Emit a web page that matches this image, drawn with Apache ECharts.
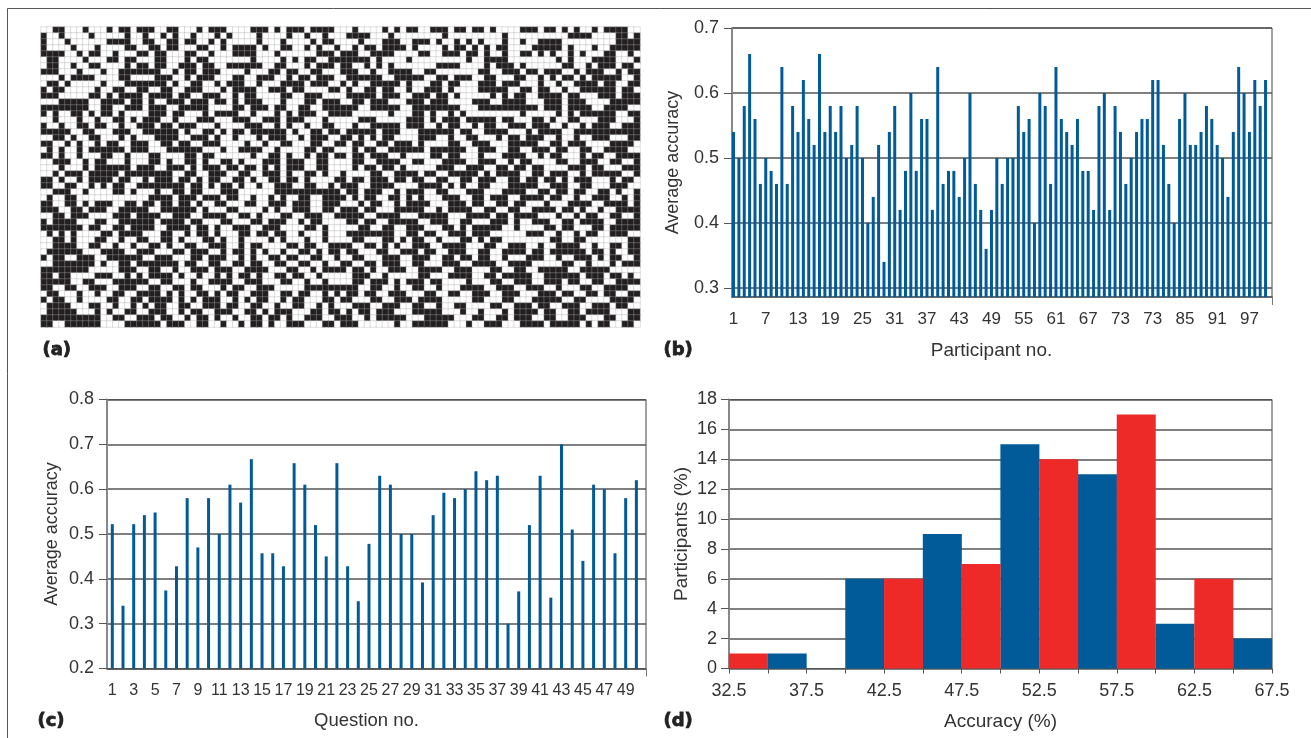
<!DOCTYPE html>
<html><head><meta charset="utf-8">
<style>html,body{margin:0;padding:0;background:#fff}#c{width:1311px;height:738px}</style>
<script src="https://cdn.jsdelivr.net/npm/echarts@6/dist/echarts.min.js"></script>
</head><body><div id="c"></div>
<script>
// (a) responses: 1 = black cell, 0 = white cell (read by eye, 50 rows x 100 columns)
const responseRows = [
"0011000100 0101101110 0110001011 1000011101 0111011110 0010000101 0110011101 1011010000 1110110101 0010111100",
"1001000010 0000100100 1010010001 0100001000 0100100100 0111100010 0000000100 0000000100 0000000011 1100001101",
"1000100000 0111100110 0110110010 1000001000 1000010110 0001000111 0011101001 0101000100 1001111000 0000001111",
"1000010001 0000110011 0110001100 1011110100 1100101001 0010110111 1010000101 1010101100 0011111010 0010011111",
"1111001011 0010001101 1000110010 0011110001 0000001110 1110011110 0001100111 0110100100 1101010010 1000110010",
"0110000100 0110110001 1000101100 0000010000 1010110011 1111101000 0100000000 0100111100 0000001010 0011110001",
"0110010011 0000101101 1001110110 0111111001 1000101110 1100101010 0000001111 0000101110 1000000110 0101110110",
"1110001000 1001111111 0010110111 0000100011 0110011000 1110010011 1100110000 0001100111 0110111001 0111001011",
"0001011110 0001100001 1100101110 0011001110 0101101110 0111111001 1111001101 1100110001 1001010110 1011111001",
"0110100000 1000111111 1010011001 0111001000 1111011100 1010011111 0100011011 0001110111 0001001001 1110110011",
"1011000001 0011001100 1100111000 1011110011 1011000011 0100110110 0100111010 0001111100 1101100100 1111110110",
"1110000011 0101111011 1101100111 0010110000 1100111000 0111110111 0011101101 0000010101 1001111011 0001110111",
"0001111100 1111011010 0111011101 1010111000 1000110111 0011011100 0111011100 0011100111 1000111011 1000011111",
"1111111100 1100111011 1001111100 0011011101 1001100111 1110011111 0011111111 0001111111 1110111011 1100111100",
"1010011010 1101000011 1011000101 1110010001 0101110011 1100000010 0011010010 1000000000 1000001010 1111110011",
"0010001001 0011010111 0010001110 0011100111 0111000100 0001110000 0111010111 0111110110 0011010011 0001110001",
"1001001101 1001001110 1101110001 0000111001 0100100110 0010011111 0111001011 0010110011 1011100100 1011100111",
"1111100110 0011100111 1110100110 1011011111 1010011011 0111110111 0001111110 1100111100 0101111001 1111111111",
"0011010011 0001010001 1110011101 0010001011 1001011100 1101010110 0001110010 0110001011 0111001001 0011100011",
"1100101001 0110011100 1101100111 0000100100 1100011001 1011001101 1101000011 0011100011 1110011011 1000011110",
"0101001011 1111011100 0111111000 1001111001 0000110110 0010110011 1111011111 1001110011 0011101100 1100111100",
"1101001000 1100100011 0000110110 0000010011 0100101101 1011011100 1000011011 0001000111 1001011000 1011001111",
"0011100101 1000100011 0100110100 1101000111 0111001100 0011001111 0011000111 1001110010 1100001100 1110011001",
"0001000101 1111101110 0111010111 0110110101 0111001100 0010110110 1000001110 0111001101 1011000011 1011000111",
"0010111011 1110111111 1100110011 1001100111 0100110100 1000011001 1110110011 1110101111 0011011100 1011111001",
"1101001011 1101100101 1101101011 0011010011 0110100001 1011011101 1011001100 1101110011 0110110101 1100010110",
"1100110010 1011001111 1111011010 1101001001 1100110010 1110011110 0001111010 1001100011 1110011100 1100011100",
"0011100100 0011010001 0011011000 1110000001 1111111111 0110111001 0111001100 0111000111 1001101101 1001101001",
"0100110000 0000000011 1101110111 0110010010 1001100111 1010110011 0101000111 0011011100 1111011001 0011100101",
"1100110101 1100110110 1101101001 1000110011 1011100111 0001011001 0111100011 1011001101 1000100011 1100111101",
"1110011011 1001111100 1111110100 0110000101 0011100110 1110110001 1111001011 1100110011 0011110110 1001001111",
"0011011100 0011101111 0011100111 1001101000 1100111001 1111001111 0001111100 0111101101 1110001001 0110011001",
"1011110001 1001111110 1111011000 1100011011 1001011000 0110110011 1110011100 1100011101 0011100110 1111001111",
"1111111011 0011011110 0111101101 0011100111 0000110100 0001100110 0111000110 1011111001 0000110110 0011011111",
"0101010000 1101111000 1100101101 0001101101 1001000100 0111111110 0110110011 1011100000 0111001001 0110011100",
"0011010001 1001001100 1101000110 1001000010 1000100100 0011000110 1011001000 1101011000 0000011001 1000000011",
"0011110011 0010010011 0100110011 1001011000 0110110011 1100110101 0011100111 1000110011 1001001111 0010011011",
"0111111000 1111001110 0011011100 1011010100 1001101011 0110001100 1110110011 1001100111 1011011111 1011010011",
"1011001110 0111111001 1100011011 1001010011 0110011001 0011000111 0011100110 1101100100 0111001001 1101011001",
"0011111110 1001101111 1110110011 0011011001 1001100100 1100110111 0011000111 0011110011 1100000110 0100010111",
"1111111100 0001110011 0010011101 1100111100 0110010111 1011010011 1001111001 1100011001 1001111100 1111100000",
"1101100001 1100101011 1101001001 0101101001 1011001000 0011100100 0001100011 1100110111 1100111111 0111011010",
"1111100110 0011111100 1100010011 1100111000 1100100100 0011011101 0111011000 0100011001 1100111011 0011001111",
"1100110011 1001110011 0011011000 1011001110 0000111111 1110011001 0011001000 1111001110 0111001000 1100111100",
"0110001001 0011001111 0101001101 0110011100 1101100101 0110110011 1000110011 0011100111 0001110110 0110110011",
"1011001000 0110011011 1101010111 0010101100 1011000110 1100011001 1101111000 0011000110 0011111001 1000011110",
"0111100011 0010010101 1001100111 0110011001 0011001010 0011100111 0011001001 1000011001 1101100111 0011101100",
"0111110001 0100110011 1001011001 1100110101 1100011011 0101101110 0011111000 1001000101 1110110011 0111100011",
"1111111111 0011001110 1100101101 0010011011 0100111001 1100101111 1000111110 0011001101 1100110011 1000110011",
"1100111111 0000111111 0111001100 1001011010 0111000110 1110000001 0011111100 0100111000 1111011111 0101100110"
];
// (b) average accuracy per participant
const participantAccuracy = [.54,.50,.58,.66,.56,.46,.50,.48,.46,.64,.46,.58,.54,.62,.56,.52,.66,.54,.58,.54,.58,.50,.52,.58,.50,.40,.44,.52,.34,.54,.58,.42,.48,.60,.48,.56,.56,.42,.64,.46,.48,.48,.44,.50,.60,.46,.42,.36,.42,.50,.46,.50,.50,.58,.54,.56,.40,.60,.58,.46,.64,.56,.54,.52,.56,.48,.48,.42,.58,.60,.42,.58,.54,.46,.50,.54,.56,.56,.62,.62,.52,.46,.40,.56,.60,.52,.52,.54,.58,.56,.52,.50,.44,.54,.64,.60,.54,.62,.58,.62];
const participantTickAt = [1,7,13,19,25,31,37,43,49,55,61,67,73,79,85,91,97];
const participantTickText = ["1","7","13","19","25","31","37","43","49","55","61","67","73","73","85","91","97"];
// (c) average accuracy per question
const questionAccuracy = [.522,.34,.522,.542,.548,.374,.428,.58,.47,.58,.50,.61,.57,.667,.457,.457,.428,.658,.61,.52,.45,.658,.428,.35,.478,.63,.61,.50,.50,.392,.542,.592,.58,.60,.64,.62,.63,.30,.372,.52,.63,.358,.70,.51,.44,.61,.60,.457,.58,.62];
const questionTickAt = [1,3,5,7,9,11,13,15,17,19,21,23,25,27,29,31,33,35,37,39,41,43,45,47,49];
// (d) histogram of participants; bins are 2.5 wide, starting at the lower edge
const binStarts = [32.5,35,37.5,40,42.5,45,47.5,50,52.5,55,57.5,60,62.5,65];
const blueShare = [null,1,0,6,null,9,null,15,null,13,null,3,null,2];
const redShare  = [1,null,null,null,6,null,7,null,14,null,17,null,6,null];
const binTicks = [32.5,35,37.5,40,42.5,45,47.5,50,52.5,55,57.5,60,62.5,65,67.5];
const binTickLabels = [32.5,37.5,42.5,47.5,52.5,57.5,62.5,67.5];

const BLUE='#005b98', RED='#ee2a29', TXT='#333', FONT='"Liberation Sans",sans-serif';
const rows = responseRows.map(r=>r.replace(/\s/g,''));
const heat=[];
rows.forEach((r,y)=>{for(let x=0;x<r.length;x++)heat.push([x,y,+r[x]]);});
const idx=n=>Array.from({length:n},(_,i)=>i);
const grid=(l,t,w,h,border)=>({left:l,top:t,width:w,height:h,show:border,borderColor:'#444',borderWidth:1,containLabel:false});
const split={show:true,lineStyle:{color:'#555',width:1.5}};
const nameStyle=(size,pad)=>({color:TXT,fontSize:size,fontFamily:FONT,padding:pad||0});
const yAxis=(g,min,max,name,gap,size,pad,extra)=>Object.assign({type:'value',gridIndex:g,min,max,name,nameLocation:'middle',nameGap:gap,
  nameTextStyle:nameStyle(size,pad),
  axisLine:{show:true,lineStyle:{color:'#888',width:2}},axisTick:{show:true,length:8,lineStyle:{color:'#555'}},
  axisLabel:{color:TXT,fontSize:18,fontFamily:FONT,margin:13},splitLine:split},extra);
const catLike=(g,min,max,at,text,name,gap,size,pad,labelSize)=>({type:'value',gridIndex:g,min,max,name,nameLocation:'middle',nameGap:gap,
  nameTextStyle:nameStyle(size,pad),splitLine:{show:false},
  axisLine:{show:true,lineStyle:{color:'#555',width:1.5}},
  axisTick:{show:true,customValues:[max],length:8,lineStyle:{color:'#777'}},
  axisLabel:{customValues:at,color:TXT,fontSize:labelSize,fontFamily:FONT,margin:14,hideOverlap:false,showMinLabel:true,showMaxLabel:true,
    formatter:v=>text?text[at.indexOf(v)]:String(v)}});
const panel=(t,x,y)=>({type:'text',left:x,top:y,style:{text:t,fill:'#222',stroke:'#222',lineWidth:0.8,font:'bold 18px "DejaVu Sans",sans-serif'}});

const option={animation:false,backgroundColor:'#fff',
 grid:[grid(41,27,599,300,false),grid(732,28,540,269,true),grid(107,399.5,539,269,true),grid(729,399.5,543,269,true)],
 xAxis:[
  {type:'category',gridIndex:0,data:idx(100),show:false},
  catLike(1,0.72,101.2,participantTickAt,participantTickText,'Participant no.',44,19,[0,21,0,0],17),
  catLike(2,0.504,50.9,questionTickAt,null,'Question no.',43,18.5,[0,20,0,0],16),
  {type:'value',gridIndex:3,min:32.5,max:67.5,name:'Accuracy (%)',nameLocation:'middle',nameGap:44,
   nameTextStyle:nameStyle(19),splitLine:{show:false},
   axisLine:{show:true,lineStyle:{color:'#555'}},axisTick:{show:true,customValues:binTicks,length:5,lineStyle:{color:'#555'}},
   axisLabel:{customValues:binTickLabels,color:TXT,fontSize:18,fontFamily:FONT,margin:14,formatter:v=>v.toFixed(1)}}
 ],
 yAxis:[
  {type:'category',gridIndex:0,data:idx(50),inverse:true,show:false},
  yAxis(1,0.286,0.7,'Average accuracy',50,18,0,{axisTick:{show:true,length:8,customValues:[.3,.4,.5,.6,.7],lineStyle:{color:'#555'}},axisLabel:{customValues:[.3,.4,.5,.6,.7],color:TXT,fontSize:18,fontFamily:FONT,margin:13,formatter:v=>v.toFixed(1)}}),
  yAxis(2,0.2,0.8,'Average accuracy',46,18,0,{interval:0.1,axisLabel:{color:TXT,fontSize:18,fontFamily:FONT,margin:13,formatter:v=>v.toFixed(1)}}),
  yAxis(3,0,18,'Participants (%)',38,19,[0,0,0,0],{interval:2,axisLabel:{color:TXT,fontSize:18,fontFamily:FONT,margin:12}})
 ],
 visualMap:{show:false,type:'piecewise',seriesIndex:0,dimension:2,pieces:[{value:0,color:'#ffffff'},{value:1,color:'#231f20'}]},
 series:[
  {type:'heatmap',xAxisIndex:0,yAxisIndex:0,data:heat,progressive:0,itemStyle:{borderColor:'rgba(170,170,170,0.6)',borderWidth:0.6}},
  {type:'bar',xAxisIndex:1,yAxisIndex:1,barWidth:3,z:3,itemStyle:{color:BLUE},data:participantAccuracy.map((v,i)=>[i+1,v])},
  {type:'bar',xAxisIndex:2,yAxisIndex:2,barWidth:3,z:3,itemStyle:{color:BLUE},data:questionAccuracy.map((v,i)=>[i+1,v])},
  {type:'bar',xAxisIndex:3,yAxisIndex:3,barWidth:39,barGap:'-100%',clip:false,z:3,itemStyle:{color:BLUE},data:binStarts.map((s,i)=>[s+1.25,blueShare[i]])},
  {type:'bar',xAxisIndex:3,yAxisIndex:3,barWidth:39,barGap:'-100%',clip:false,z:3,itemStyle:{color:RED},data:binStarts.map((s,i)=>[s+1.25,redShare[i]])}
 ],
 graphic:[
  {type:'polyline',shape:{points:[[7.5,738],[7.5,8.5],[1311,8.5]]},style:{stroke:'#555',fill:null,lineWidth:1}},
  panel('(a)',42,341),panel('(b)',663,341),panel('(c)',37,712),panel('(d)',663,712)
 ]};
const chart=echarts.init(document.getElementById('c'),null,{renderer:'canvas'});
chart.setOption(option);
</script></body></html>
